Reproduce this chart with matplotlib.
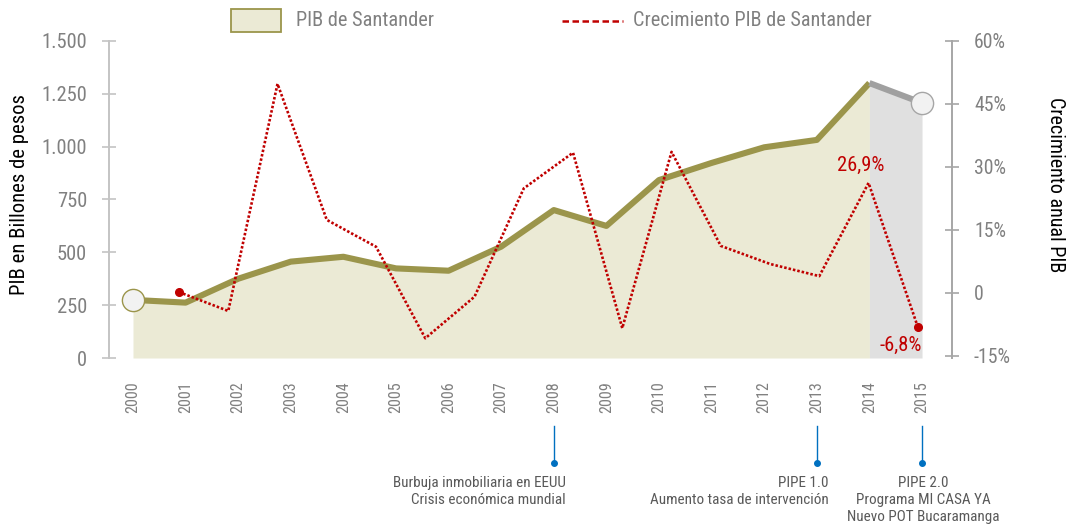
import os
import numpy as np
import matplotlib
matplotlib.use("Agg")
import matplotlib.pyplot as plt
import matplotlib.font_manager as fm
from matplotlib.patches import Rectangle
from matplotlib.lines import Line2D
from matplotlib import transforms

# ---------------- font selection (prefer a narrow Arial-like face) ----------------
FS = 1.0
chosen = None
for f in fm.fontManager.ttflist:
    base = os.path.basename(f.fname).lower()
    if 'liberationsansnarrow' in base and 'bold' not in base and 'italic' not in base:
        chosen = f
        break
if chosen is None:
    for f in fm.fontManager.ttflist:
        base = os.path.basename(f.fname).lower()
        if ('narrow' in base or 'condensed' in base) and 'roboto' in base \
                and 'bold' not in base and 'italic' not in base and 'light' not in base:
            chosen = f
            break
if chosen is not None:
    plt.rcParams['font.family'] = [chosen.name, 'DejaVu Sans']
    plt.rcParams['font.stretch'] = chosen.stretch
else:
    plt.rcParams['font.family'] = ['Liberation Sans', 'DejaVu Sans']
    FS = 0.84

# ---------------- data ----------------
years = [2000, 2001, 2002, 2003, 2004, 2005, 2006, 2007,
         2008, 2009, 2010, 2011, 2012, 2013, 2014, 2015]
pib = [275, 262, 375, 456, 479, 424, 413, 527,
       700, 625, 842, 923, 997, 1032, 1301, 1207]
growth = [0.2, -4.3, 49.8, 17.4, 11.0, -10.8, -0.9, 24.9,
          33.4, -8.4, 33.6, 11.2, 6.9, 4.0, 26.2, -8.1]
growth_labels = ["26,9%", "-6,8%"]
left_ticks = [0, 250, 500, 750, 1000, 1250, 1500]
right_ticks = [-15, 0, 15, 30, 45, 60]
right_tick_labels = ["-15%", "0", "15%", "30%", "45%", "60%"]
events = [
    (2008, "Burbuja inmobiliaria en EEUU\nCrisis económica mundial"),
    (2013, "PIPE 1.0\nAumento tasa de intervención"),
    (2015, "PIPE 2.0\nPrograma MI CASA YA\nNuevo POT Bucaramanga"),
]

# ---------------- style ----------------
W, H = 1079, 531
OLIVE = '#9B954B'
KHAKI = '#EBEAD5'
GREYFILL = '#E0E0E0'
RED = '#C00000'
TICKGREY = '#808080'
BLUE = '#0070C0'

fig = plt.figure(figsize=(W / 100, H / 100), dpi=100)
ax = fig.add_axes([109 / W, (H - 358) / H, (952 - 109) / W, (358 - 41) / H])
ax.set_xlim(1999.544, 2015.570)
ax.set_ylim(0, 1500)
ax2 = ax.twinx()
ax2.set_ylim(-15.5, 60)

yrs = np.array(years, dtype=float)
pv = np.array(pib, dtype=float)
n_hist = len(years) - 1  # last segment (2014-2015) drawn in grey

ax.fill_between(yrs[:n_hist], 0, pv[:n_hist], color=KHAKI, lw=0, zorder=1)
ax.fill_between(yrs[n_hist - 1:], 0, pv[n_hist - 1:], color=GREYFILL, lw=0, zorder=1)
ax.plot(yrs[:n_hist], pv[:n_hist], color=OLIVE, lw=4.4, solid_capstyle='butt',
        solid_joinstyle='round', zorder=3)
ax.plot(yrs[n_hist - 1:], pv[n_hist - 1:], color='#A0A0A0', lw=4.4,
        solid_capstyle='butt', zorder=3)
ax.plot([yrs[0]], [pv[0]], 'o', ms=16, mfc='#F2F2F2', mec=OLIVE, mew=1.0, zorder=4)
ax.plot([yrs[-1]], [pv[-1]], 'o', ms=16, mfc='#F2F2F2', mec='#A6A6A6', mew=1.0, zorder=4)

# growth series (secondary category positions)
gx = np.linspace(2000.875, 2014.92, len(growth))
gv = np.array(growth)
ax2.plot(gx, gv, color=RED, lw=1.9, linestyle=(0, (0.95, 0.75)), zorder=5)
ax2.plot(gx[[0, -1]], gv[[0, -1]], 'o', color=RED, ms=5.5, zorder=6)
ax2.annotate(growth_labels[0], xy=(gx[-2], gv[-2]), xytext=(-6, 12.5),
             textcoords='offset points', ha='center', va='center',
             color=RED, fontsize=14.8 * FS)
ax2.annotate(growth_labels[1], xy=(gx[-1], gv[-1]), xytext=(-12, -13),
             textcoords='offset points', ha='center', va='center',
             color=RED, fontsize=14.8 * FS)

# axes styling
for s in ['top', 'bottom', 'right']:
    ax.spines[s].set_visible(False)
for s in ['top', 'bottom', 'left']:
    ax2.spines[s].set_visible(False)
ax.spines['left'].set_color('#C4C4C4')
ax.spines['left'].set_linewidth(1.4)
ax2.spines['right'].set_color('#A6A6A6')
ax2.spines['right'].set_linewidth(1.4)

ax.set_yticks(left_ticks)
ax.set_yticklabels([f"{v:,}".replace(',', '.') for v in left_ticks])
ax.tick_params(axis='y', direction='inout', length=10, width=1.2, color='#C4C4C4',
               labelcolor=TICKGREY, labelsize=14.8 * FS, pad=10.8)
ax2.set_yticks(right_ticks)
ax2.set_yticklabels(right_tick_labels)
ax2.tick_params(axis='y', direction='inout', length=10, width=1.2, color='#A6A6A6',
                labelcolor=TICKGREY, labelsize=14.2 * FS, pad=10.8)
ax.set_xticks(years)
ax.set_xticklabels([str(y) for y in years], rotation=90)
ax.tick_params(axis='x', length=0, labelcolor=TICKGREY, labelsize=11.6 * FS, pad=16.5)

fig.text(20 / W, 1 - 195 / H, "PIB en Billones de pesos", rotation=90,
         ha='center', va='center', fontsize=14.9 * FS, color='black')
fig.text(1055 / W, 1 - 185 / H, "Crecimiento anual PIB", rotation=270,
         ha='center', va='center', fontsize=14.5 * FS, color='black')

# legend (drawn manually)
fig.add_artist(Rectangle((231 / W, 1 - 31.7 / H), 50 / W, 23 / H,
                         transform=fig.transFigure, facecolor=KHAKI,
                         edgecolor=OLIVE, lw=1.3))
fig.text(296.5 / W, 1 - 21 / H, "PIB de Santander", ha='left', va='center',
         fontsize=14.7 * FS, color=TICKGREY)
fig.add_artist(Line2D([562 / W, 623 / W], [1 - 21 / H, 1 - 21 / H],
                      transform=fig.transFigure, color=RED, lw=1.8,
                      linestyle=(0, (2.6, 1.4))))
fig.text(633 / W, 1 - 21 / H, "Crecimiento PIB de Santander", ha='left',
         va='center', fontsize=14.6 * FS, color=TICKGREY)

# event annotations below the axis
trans = transforms.blended_transform_factory(ax.transData, fig.transFigure)
for yr, txt in events:
    ax.plot([yr, yr], [1 - 426 / H, 1 - 463 / H], color=BLUE, lw=1.0,
            transform=trans, clip_on=False)
    ax.plot([yr], [1 - 463 / H], 'o', color=BLUE, ms=4, transform=trans,
            clip_on=False)
    if yr == years[-1]:
        ax.text(yr + 0.03, 1 - 476 / H, txt, transform=trans, ha='center',
                va='top', multialignment='center', fontsize=10.9 * FS,
                color='#595959', linespacing=1.28)
    else:
        ax.text(yr + 0.23, 1 - 476 / H, txt, transform=trans, ha='right',
                va='top', multialignment='right', fontsize=10.9 * FS,
                color='#595959', linespacing=1.28)

fig.savefig("out.png", dpi=100)
